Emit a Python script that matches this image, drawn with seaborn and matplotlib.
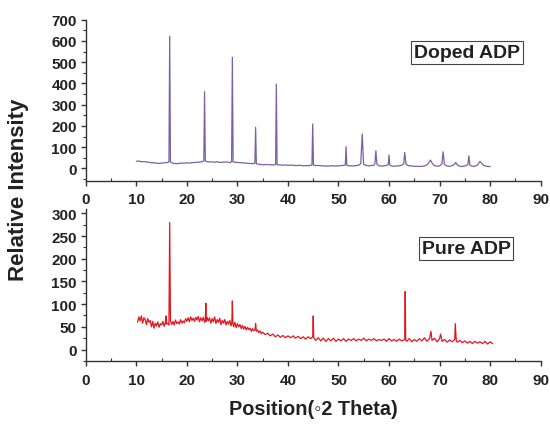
import matplotlib
matplotlib.use('Agg')
import matplotlib.pyplot as plt
import seaborn as sns
import pandas as pd
from matplotlib.ticker import MultipleLocator

# ---------------- data ----------------
doped_theta = [10.0, 10.5, 11.0, 11.5, 12.0, 12.5, 13.0, 13.5, 14.0, 14.5, 15.0, 15.5, 16.0,
               16.45, 16.6, 16.75, 17.0, 17.5, 18.0, 18.5, 19.0, 19.5, 20.0, 20.5, 21.0, 21.5,
               22.0, 22.5, 23.0, 23.35, 23.5, 23.65, 24.0, 24.5, 25.0, 25.5, 26.0, 26.5, 27.0,
               27.5, 28.0, 28.5, 28.85, 29.0, 29.15, 29.5, 30.0, 30.5, 31.0, 31.5, 32.0, 32.5,
               33.0, 33.45, 33.6, 33.75, 34.0, 34.5, 35.0, 35.5, 36.0, 36.5, 37.0, 37.55, 37.7,
               37.85, 38.5, 39.0, 39.5, 40.0, 40.5, 41.0, 41.5, 42.0, 42.5, 43.0, 43.5, 44.0,
               44.5, 44.75, 44.9, 45.05, 45.5, 46.0, 46.5, 47.0, 47.5, 48.0, 48.5, 49.0, 49.5,
               50.0, 50.5, 51.0, 51.35, 51.5, 51.65, 52.0, 52.5, 53.0, 53.5, 54.0, 54.4, 54.7,
               54.95, 55.3, 56.0, 56.5, 57.0, 57.2, 57.4, 57.6, 58.0, 58.5, 59.0, 59.5, 59.85,
               60.0, 60.15, 60.5, 61.0, 61.5, 62.0, 62.5, 62.9, 63.1, 63.35, 63.8, 64.5, 65.0,
               65.5, 66.0, 66.5, 67.0, 67.6, 67.9, 68.2, 68.5, 68.9, 69.5, 70.0, 70.45, 70.7,
               70.95, 71.5, 72.0, 72.5, 73.0, 73.2, 73.5, 74.0, 74.5, 75.0, 75.6, 75.8, 76.0,
               76.5, 77.0, 77.5, 78.0, 78.3, 78.7, 79.2, 79.6, 80.0]
doped_intensity = [33, 35, 31, 32, 30, 29, 26, 27, 24, 23, 25, 26, 27,
                   30, 622, 32, 26, 23, 22, 24, 24, 25, 26, 25, 27, 28,
                   28, 30, 31, 36, 361, 34, 32, 30, 31, 29, 31, 28, 29,
                   30, 30, 27, 31, 523, 30, 29, 28, 27, 26, 25, 24, 23,
                   22, 24, 193, 22, 20, 19, 17, 18, 18, 17, 16, 18, 397,
                   17, 16, 15, 16, 14, 15, 15, 13, 14, 14, 12, 13, 13,
                   14, 16, 209, 15, 13, 14, 12, 12, 11, 11, 12, 12, 11,
                   12, 13, 14, 16, 102, 15, 12, 12, 11, 13, 15, 22, 162,
                   20, 15, 12, 13, 15, 22, 83, 20, 12, 11, 12, 14, 18,
                   63, 16, 11, 10, 11, 12, 15, 22, 75, 20, 13, 11, 10,
                   10, 9, 10, 11, 18, 28, 39, 26, 14, 10, 12, 20, 78,
                   18, 11, 10, 13, 20, 28, 16, 10, 9, 11, 18, 59, 15,
                   10, 10, 16, 33, 24, 14, 10, 9, 8]

pure_theta = [10.25, 10.5, 10.75, 11.0, 11.25, 11.5, 11.75, 12.0, 12.25, 12.5, 12.75, 13.0,
              13.25, 13.5, 13.75, 14.0, 14.25, 14.5, 14.75, 15.0, 15.25, 15.5, 15.75, 15.85,
              15.95, 16.25, 16.45, 16.6, 16.75, 17.0, 17.25, 17.5, 17.75, 18.0, 18.25, 18.5,
              18.75, 19.0, 19.25, 19.5, 19.75, 20.0, 20.25, 20.5, 20.75, 21.0, 21.25, 21.5,
              21.75, 22.0, 22.25, 22.5, 22.75, 23.0, 23.25, 23.5, 23.65, 23.75, 23.85, 24.0,
              24.25, 24.5, 24.75, 25.0, 25.25, 25.5, 25.75, 26.0, 26.25, 26.5, 26.75, 27.0,
              27.25, 27.5, 27.75, 28.0, 28.25, 28.5, 28.75, 28.9, 29.0, 29.1, 29.25, 29.5,
              29.75, 30.0, 30.25, 30.5, 30.75, 31.0, 31.25, 31.5, 31.75, 32.0, 32.25, 32.5,
              32.75, 33.0, 33.25, 33.5, 33.6, 33.75, 34.0, 34.25, 34.5, 34.75, 35.0,
              35.5, 36.0, 36.5, 37.0, 37.5, 38.0, 38.5, 39.0, 39.5, 40.0, 40.5, 41.0, 41.5,
              42.0, 42.5, 43.0, 43.5, 44.0, 44.5, 44.9, 45.0, 45.1, 45.5, 46.0, 46.5, 47.0,
              47.5, 48.0, 48.5, 49.0, 49.5, 50.0, 50.5, 51.0, 51.5, 52.0, 52.5, 53.0, 53.5,
              54.0, 54.5, 55.0, 55.5, 56.0, 56.5, 57.0, 57.5, 58.0, 58.5, 59.0, 59.5, 60.0,
              60.5, 61.0, 61.5, 62.0, 62.5, 63.1, 63.2, 63.3, 63.5, 64.0, 64.5, 65.0, 65.5,
              66.0, 66.5, 67.0, 67.5, 68.0, 68.3, 68.5, 69.0, 69.5, 70.0, 70.2, 70.5, 71.0,
              71.5, 72.0, 72.5, 73.0, 73.1, 73.3, 73.5, 74.0, 74.5, 75.0, 75.5, 76.0, 76.5,
              77.0, 77.5, 78.0, 78.5, 79.0, 79.5, 80.0, 80.5]
pure_intensity = [60, 72, 63, 74, 58, 70, 66, 55, 68, 60, 64, 50,
                  62, 47, 58, 52, 61, 49, 57, 54, 62, 51, 60, 74,
                  56, 58, 54, 280, 63, 55, 62, 54, 65, 57, 61, 56,
                  66, 58, 63, 59, 68, 62, 70, 61, 72, 64, 69, 62,
                  71, 65, 73, 61, 70, 63, 71, 60, 67, 102, 62, 71,
                  63, 70, 58, 68, 61, 72, 57, 66, 60, 69, 55, 64,
                  58, 66, 54, 62, 56, 64, 52, 60, 107, 58, 50, 60,
                  48, 57, 50, 55, 46, 53, 45, 51, 43, 49, 44, 47,
                  40, 46, 41, 44, 57, 40, 43, 37, 41, 35, 38,
                  33, 36, 30, 34, 28, 32, 27, 31, 26, 30, 26, 30, 25,
                  29, 24, 28, 23, 28, 24, 28, 74, 26, 20, 26, 19, 25,
                  18, 24, 19, 25, 18, 23, 19, 24, 18, 23, 20, 24, 19,
                  23, 20, 25, 19, 23, 20, 24, 19, 22, 20, 23, 18, 24,
                  19, 22, 18, 23, 19, 22, 128, 21, 18, 24, 17, 22, 18,
                  24, 19, 26, 18, 24, 40, 20, 25, 17, 24, 34, 18, 22,
                  16, 21, 17, 22, 57, 20, 16, 20, 15, 19, 14, 18, 13,
                  18, 14, 17, 13, 18, 12, 17, 13]

x_ticks = [0, 10, 20, 30, 40, 50, 60, 70, 80, 90]
doped_label = 'Doped ADP'
pure_label = 'Pure ADP'
y_label = 'Relative Intensity'
x_label = 'Position(\u25e62 Theta)'

doped_df = pd.DataFrame({'theta': doped_theta, 'intensity': doped_intensity})
pure_df = pd.DataFrame({'theta': pure_theta, 'intensity': pure_intensity})

# ---------------- style ----------------
sns.set_style('ticks')
plt.rcParams['font.family'] = ['Liberation Sans', 'DejaVu Sans']
plt.rcParams['font.weight'] = 'bold'

fig = plt.figure(figsize=(5.5, 4.27), dpi=100)
ax1 = fig.add_axes([0.156, 0.5745, 0.827, 0.377])
ax2 = fig.add_axes([0.156, 0.1515, 0.827, 0.357])

sns.lineplot(data=doped_df, x='theta', y='intensity', ax=ax1, color='#7d5fa6',
             linewidth=0.9, estimator=None, sort=False)
sns.lineplot(data=pure_df, x='theta', y='intensity', ax=ax2, color='#e3161e',
             linewidth=0.9, estimator=None, sort=False)

ax1.set_ylim(-58, 700)
ax1.yaxis.set_major_locator(MultipleLocator(100))
ax1.yaxis.set_minor_locator(MultipleLocator(50))
ax2.set_ylim(-26, 310)
ax2.yaxis.set_major_locator(MultipleLocator(50))
ax2.yaxis.set_minor_locator(MultipleLocator(25))

for ax in (ax1, ax2):
    ax.set_xlim(0, 90)
    ax.set_xticks(x_ticks)
    ax.xaxis.set_minor_locator(MultipleLocator(5))
    ax.set_xlabel('')
    ax.set_ylabel('')
    ax.spines['top'].set_visible(False)
    ax.spines['right'].set_visible(False)
    for s in ('left', 'bottom'):
        ax.spines[s].set_color('#333333')
        ax.spines[s].set_linewidth(1.0)
    ax.tick_params(axis='both', which='major', labelsize=11, length=3.5, width=1.0,
                   color='#333333', labelcolor='#222222', direction='out', pad=3)
    ax.tick_params(axis='x', which='major', pad=5)
    ax.tick_params(axis='y', which='minor', length=2.5, width=0.8, color='#333333',
                   direction='out')
    ax.tick_params(axis='x', which='minor', length=2.5, width=0.8, color='#333333',
                   direction='in')
    for lbl in ax.get_xticklabels() + ax.get_yticklabels():
        lbl.set_fontweight('bold')

ax1.text(0.838, 0.796, doped_label, transform=ax1.transAxes, ha='center', va='center',
         fontsize=14, fontweight='bold', color='#222222',
         bbox=dict(boxstyle='square,pad=0.15', fc='white', ec='#444444', lw=0.8))
ax2.text(0.836, 0.74, pure_label, transform=ax2.transAxes, ha='center', va='center',
         fontsize=14, fontweight='bold', color='#222222',
         bbox=dict(boxstyle='square,pad=0.15', fc='white', ec='#444444', lw=0.8))

fig.text(0.033, 0.555, y_label, rotation=90, ha='center', va='center',
         fontsize=16, fontweight='bold', color='#222222')
fig.text(0.569, 0.04, x_label, ha='center', va='center',
         fontsize=14.3, fontweight='bold', color='#222222')

fig.savefig('out.png', dpi=100)
